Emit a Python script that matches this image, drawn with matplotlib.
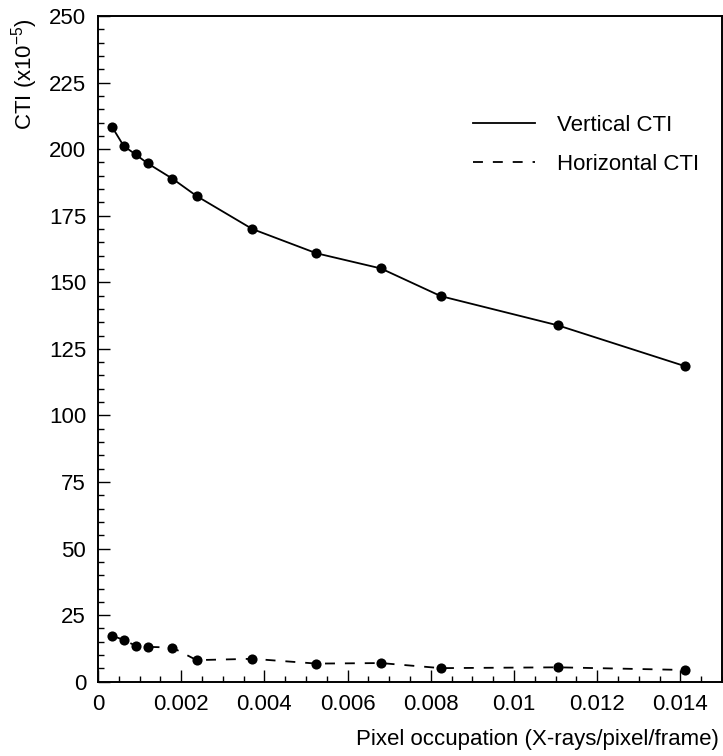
import matplotlib
matplotlib.use("Agg")
import matplotlib.pyplot as plt
from matplotlib.ticker import MultipleLocator, FuncFormatter
from matplotlib.lines import Line2D

plt.rcParams['font.family'] = ['Liberation Sans', 'DejaVu Sans']
plt.rcParams['mathtext.fontset'] = 'custom'
plt.rcParams['mathtext.rm'] = 'Liberation Sans'
plt.rcParams['mathtext.it'] = 'Liberation Sans:italic'
plt.rcParams['mathtext.bf'] = 'Liberation Sans:bold'

# Data
occupancy = [0.000336, 0.000617, 0.000905, 0.00119, 0.00179, 0.00237,
             0.00371, 0.00525, 0.00680, 0.00824, 0.01106, 0.01411]
vertical_cti = [208.4, 201.2, 198.0, 194.7, 188.9, 182.4,
                170.0, 160.9, 155.2, 144.8, 133.8, 118.5]
horizontal_cti = [17.3, 15.7, 13.5, 13.1, 12.8, 8.1,
                  8.6, 6.8, 7.0, 5.1, 5.4, 4.4]
series_labels = ["Vertical CTI", "Horizontal CTI"]
x_title = "Pixel occupation (X-rays/pixel/frame)"
y_title = "CTI (x10$^{-5}$)"

W, H = 723, 756
fig = plt.figure(figsize=(W / 100, H / 100), dpi=100)
ax = fig.add_axes([98 / W, 1 - 681.7 / H, (722 - 98) / W, (681.7 - 16) / H])

FS = 16
lw = 1.3
ax.plot(occupancy, vertical_cti, color='black', lw=lw, linestyle='-',
        marker='o', markersize=7.3, markeredgewidth=0)
ax.plot(occupancy, horizontal_cti, color='black', lw=lw, linestyle=(0, (5.5, 5.5)),
        marker='o', markersize=7.3, markeredgewidth=0)

ax.set_xlim(0, 0.015)
ax.set_ylim(0, 250)
ax.xaxis.set_major_locator(MultipleLocator(0.002))
ax.xaxis.set_minor_locator(MultipleLocator(0.0005))
ax.yaxis.set_major_locator(MultipleLocator(25))
ax.yaxis.set_minor_locator(MultipleLocator(5))
ax.xaxis.set_major_formatter(FuncFormatter(lambda v, p: "0" if abs(v) < 1e-12 else ("%g" % round(v, 6))))
ax.yaxis.set_major_formatter(FuncFormatter(lambda v, p: "%d" % round(v)))

for s in ax.spines.values():
    s.set_linewidth(1.4)
ax.tick_params(which='both', direction='in', top=False, right=False, labelsize=FS, width=1.0)
ax.tick_params(which='major', length=8.6)
ax.tick_params(which='minor', length=4.5)
ax.tick_params(axis='x', which='major', pad=9)
ax.tick_params(axis='y', which='major', pad=8.6)

handles = [Line2D([], [], color='black', lw=lw, linestyle='-'),
           Line2D([], [], color='black', lw=lw, linestyle=(0, (5.5, 5.5)))]
leg = ax.legend(handles, series_labels, loc='upper left',
                bbox_to_anchor=(473 / W, 1 - 115 / H), bbox_transform=fig.transFigure,
                frameon=False, fontsize=FS, handlelength=2.8, handletextpad=1.0,
                labelspacing=0.8, borderpad=0, borderaxespad=0)

fig.text(25 / W, 1 - 18 / H, y_title, rotation=90, ha='center', va='top', fontsize=FS)
fig.text(719 / W, 1 - 740 / H, x_title, ha='right', va='center', fontsize=FS)

fig.savefig("out.png", dpi=100, facecolor='white')
